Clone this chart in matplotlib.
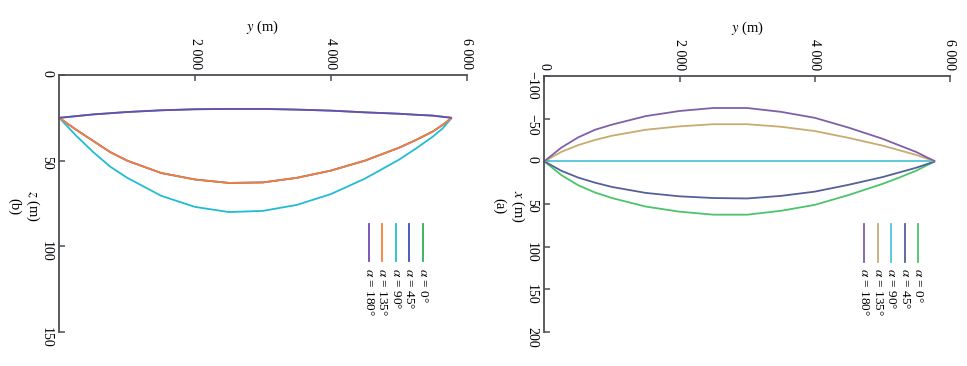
import matplotlib
matplotlib.use("Agg")
import matplotlib.pyplot as plt
from matplotlib.ticker import FuncFormatter

plt.rcParams['font.family'] = ['Liberation Serif', 'DejaVu Serif']
plt.rcParams['mathtext.fontset'] = 'stix'

# ---------------- data ----------------
labels = [r"$\alpha$ = 0°", r"$\alpha$ = 45°", r"$\alpha$ = 90°", r"$\alpha$ = 135°", r"$\alpha$ = 180°"]

y_pos = [0, 250, 500, 750, 1000, 1500, 2000, 2500, 3000, 3500, 4000, 4500, 5000, 5250, 5500, 5650, 5780]

# panel (a): lateral offset x (m)
xa_0 = [0, 16, 28, 36.5, 43, 53, 59, 62.5, 62.5, 58, 51, 39.5, 26.5, 19, 11, 5, 0]
xa_45 = [0, 11, 19, 25, 30, 37, 41, 43, 43.5, 40.5, 35.5, 27.5, 18.5, 13, 7.5, 3.5, 0]
xa_90 = [0, 0, 0, 0, 0, 0, 0, 0, 0, 0, 0, 0, 0, 0, 0, 0, 0]
xa_135 = [0, -11, -19, -25, -30, -37, -41, -43.5, -43.5, -40.5, -35.5, -27.5, -18.5, -13, -7.5, -3.5, 0]
xa_180 = [0, -16, -28, -37, -43, -53, -59, -62.5, -62.5, -58, -51, -39.5, -26.5, -18.7, -11, -5, 0]

# panel (b): depth z (m)
zb_0 = [25, 24, 23, 22.3, 21.6, 20.6, 20.0, 19.8, 19.8, 20.2, 20.8, 21.8, 22.6, 23.2, 23.7, 24.4, 25]
zb_45 = [25, 32, 38.5, 45, 50, 57.2, 61, 63, 62.7, 60, 55.8, 50, 42.5, 38, 33, 29, 25]
zb_90 = [25, 35.5, 45, 53.5, 60, 70.5, 77, 80, 79.3, 75.8, 69.5, 60.5, 49.5, 43, 36, 31, 25]
zb_135 = [25, 32, 38.5, 45, 50, 57.2, 61, 63, 62.7, 60, 55.8, 50, 42.5, 38, 33, 29, 25]
zb_180 = [25, 24, 23, 22.3, 21.6, 20.6, 20.0, 19.8, 19.8, 20.2, 20.8, 21.8, 22.6, 23.2, 23.7, 24.4, 25]

colors_a = ['#4cc46a', '#55609a', '#52c6d8', '#c8ab70', '#7f60a8']
colors_b = ['#32b050', '#3c50b8', '#22bcd2', '#f67f38', '#7148b8']

spine_c = '#4a4f55'

fig = plt.figure(figsize=(9.67, 3.66), dpi=100)
axb = fig.add_axes([59.3 / 967, 1 - 332 / 366, 407.4 / 967, 257 / 366])
axa = fig.add_axes([544.3 / 967, 1 - 332 / 366, 405.7 / 967, 256 / 366])


def fmt(v, pos):
    s = f"{v:,.0f}".replace(",", " ")
    return s.replace("-", "\u2212")


def style(ax, ylim, yticks, xticks, ylabel, tag, leg_x, colors, series):
    for s, c in zip(series, colors):
        ax.plot(y_pos, s, color=c, lw=1.3, solid_capstyle='butt')
    ax.set_xlim(0, 6000)
    ax.set_ylim(*ylim)
    ax.set_xticks(xticks)
    ax.set_yticks(yticks)
    ax.xaxis.set_major_formatter(FuncFormatter(fmt))
    ax.yaxis.set_major_formatter(FuncFormatter(fmt))
    ax.xaxis.tick_top()
    ax.xaxis.set_label_position('top')
    for sp in ['right', 'bottom']:
        ax.spines[sp].set_visible(False)
    for sp in ['left', 'top']:
        ax.spines[sp].set_color(spine_c)
        ax.spines[sp].set_linewidth(1.3)
    ax.tick_params(axis='both', direction='in', length=4.5, width=1.1, color=spine_c,
                   labelsize=10, pad=4.5)
    for t in ax.get_xticklabels():
        t.set_rotation(-90)
    for t in ax.get_yticklabels():
        t.set_rotation(-90)
    ax.set_xlabel(r"$y$ (m)", fontsize=10.5, labelpad=5)
    ax.set_ylabel(ylabel, fontsize=10.5, rotation=-90, ha='center', va='center')
    ax.yaxis.set_label_coords(-0.066, 0.49)
    ax.text(-0.112, 0.49, tag, transform=ax.transAxes, rotation=-90, fontsize=10.5,
            ha='center', va='center')
    # legend drawn rotated: items from right to left
    for i, (lab, c) in enumerate(zip(labels, colors)):
        x = leg_x - i * 0.0335
        ax.plot([x, x], [0.275, 0.42], transform=ax.transAxes, color=c, lw=1.3,
                clip_on=False)
        ax.text(x, 0.25, lab, transform=ax.transAxes, rotation=-90, fontsize=9.5,
                ha='center', va='top')


style(axb, (150, 0), [0, 50, 100, 150], [2000, 4000, 6000], r"$z$ (m)", "(b)", 0.893,
      colors_b, [zb_0, zb_45, zb_90, zb_135, zb_180])
style(axa, (200, -100), [-100, -50, 0, 50, 100, 150, 200], [0, 2000, 4000, 6000],
      r"$x$ (m)", "(a)", 0.922, colors_a, [xa_0, xa_45, xa_90, xa_135, xa_180])

fig.savefig("out.png", dpi=100)
